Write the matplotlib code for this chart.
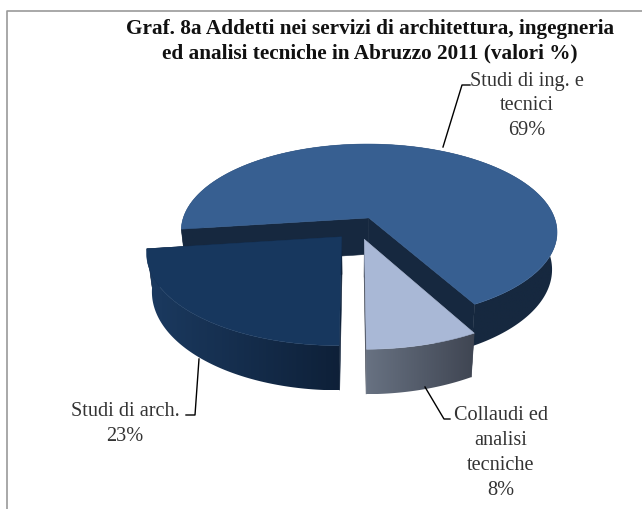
import numpy as np
import matplotlib
matplotlib.use('Agg')
import matplotlib.pyplot as plt
from matplotlib.colors import LinearSegmentedColormap
from matplotlib.patches import Polygon

plt.rcParams['font.family'] = ['Liberation Serif', 'DejaVu Serif']

title = 'Graf. 8a Addetti nei servizi di architettura, ingegneria\ned analisi tecniche in Abruzzo 2011 (valori %)'
labels = ['Studi di ing. e\ntecnici\n69%', 'Studi di arch.\n23%', 'Collaudi ed\nanalisi\ntecniche\n8%']
values = [69, 23, 8]
top_colors = ['#375f91', '#17375e', '#a9b8d6']
side_left = ['#16283f', '#1b3a60', '#687282']
side_right = ['#16283f', '#0e2038', '#3f4552']

start_angle = -61.0
explode = 0.13
cx, cy = 358.0, 229.0
rx, ry = 189.0, 88.5
persp = 0.158
depth = 37.0
shrink = 0.975


def project(px, py):
    d = 1 + persp * py
    return cx + rx * px / d, cy - ry * py / d


def project_low(px, py):
    d = 1 + persp * py
    x, y = project(px, py)
    return cx + (x - cx) * shrink, y + depth / d


def draw_slice(ax, a0, a1, i):
    z = 2 + i * 10
    mid = np.radians((a0 + a1) / 2)
    ox, oy = explode * np.cos(mid), explode * np.sin(mid)
    t = np.radians(np.linspace(a0, a1, 200))
    px = ox + np.cos(t)
    py = oy + np.sin(t)
    xs, ys = project(px, py)

    # radial walls first, then the rim, top face over them
    for tt in (t[0], t[-1]):
        wx = np.array([ox, ox + np.cos(tt)])
        wy = np.array([oy, oy + np.sin(tt)])
        a, b = project(wx, wy)
        c, e = project_low(wx, wy)
        ax.fill([a[0], a[1], c[1], c[0]], [b[0], b[1], e[1], e[0]],
                color=side_right[i], lw=0.4, zorder=z)

    lx, ly = project_low(px, py)
    rim = Polygon(np.c_[np.r_[xs, lx[::-1]], np.r_[ys, ly[::-1]]], transform=ax.transData)
    cmap = LinearSegmentedColormap.from_list('rim', [side_left[i], side_right[i]])
    im = ax.imshow(np.linspace(0, 1, 256)[None, :], cmap=cmap, aspect='auto', zorder=z + 1,
                   extent=(min(xs.min(), lx.min()), max(xs.max(), lx.max()),
                           max(ys.max(), ly.max()), min(ys.min(), ly.min())))
    im.set_clip_path(rim)

    ax0, ay0 = project(np.array([ox]), np.array([oy]))
    ax.fill(np.r_[ax0, xs], np.r_[ay0, ys], color=top_colors[i], lw=0.4, zorder=z + 2)


def main():
    fig = plt.figure(figsize=(6.42, 5.10), dpi=100)
    ax = fig.add_axes([0, 0, 1, 1])
    ax.axis('off')

    ax.plot([7, 7, 642], [510, 12, 12], color='#9a9a9a', lw=1.2, zorder=1)

    angles = start_angle + np.r_[0, np.cumsum(values)] * 3.6
    for i in range(len(values)):
        draw_slice(ax, angles[i], angles[i + 1], i)

    ax.set_xlim(0, 642)
    ax.set_ylim(510, 0)

    ax.text(370, 41, title, ha='center', va='center', fontsize=15.3, fontweight='bold',
            color='#111111', linespacing=1.3, zorder=60)

    ax.text(527, 106, labels[0], ha='center', va='center', fontsize=14.6, color='#333333',
            linespacing=1.42, zorder=60)
    ax.text(125, 424, labels[1], ha='center', va='center', fontsize=14.6, color='#333333',
            linespacing=1.42, zorder=60)
    ax.text(501, 453, labels[2], ha='center', va='center', fontsize=14.6, color='#333333',
            linespacing=1.42, zorder=60)

    ax.plot([470, 462, 443], [86, 86, 148], color='black', lw=1, zorder=60)
    ax.plot([186, 195, 199], [416, 416, 360], color='black', lw=1, zorder=60)
    ax.plot([450, 444, 425], [420, 420, 388], color='black', lw=1, zorder=60)

    fig.savefig('out.png', dpi=100)


if __name__ == '__main__':
    main()
